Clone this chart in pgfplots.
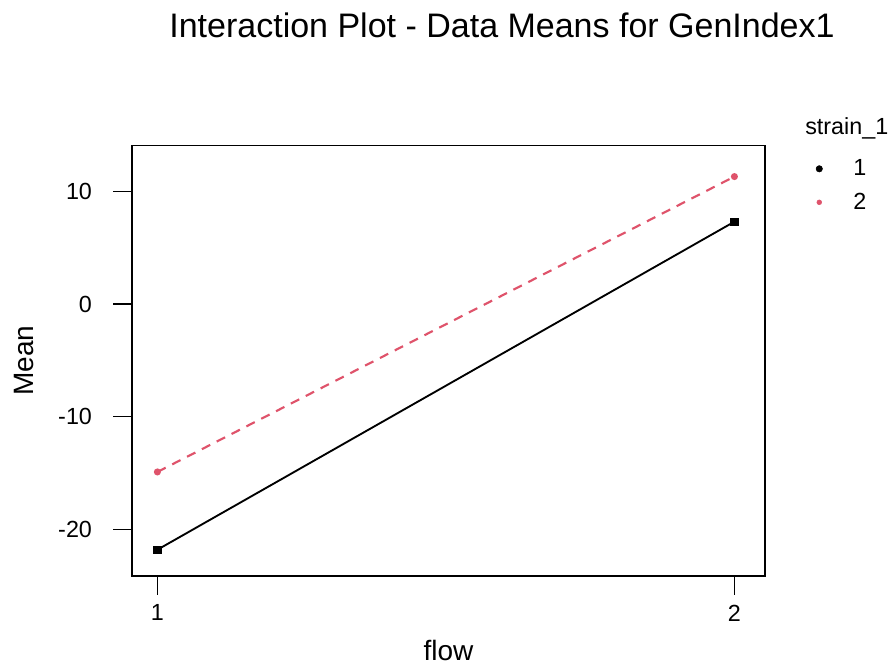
\documentclass[border=0pt]{standalone}
\usepackage{fontspec}
\setmainfont{Liberation Sans}
\usepackage{pgfplots}
\pgfplotsset{compat=1.18}
\definecolor{rred}{HTML}{DF536B}
\begin{document}
\begin{tikzpicture}
\path[use as bounding box, fill=white] (0,0) rectangle (668.25pt,501pt);
\begin{axis}[
  at={(99pt,69pt)}, anchor=south west,
  scale only axis, width=474.75pt, height=322.9pt,
  xmin=0.956, xmax=2.053, ymin=-24.13, ymax=14.06,
  xtick={1,2}, xticklabels={1,2},
  ytick={-20,-10,0,10}, yticklabels={-20,-10,0,10},
  xtick pos=bottom, ytick pos=left, tick align=outside,
  major tick length=14pt,
  axis line style={line width=1pt},
  every tick/.style={black, line width=1pt},
  ticklabel style={font=\fontsize{17.5}{20}\selectfont},
  yticklabel style={xshift=-12.5pt},
  xticklabel style={yshift=-4pt},
  xlabel={flow}, ylabel={Mean},
  label style={font=\fontsize{21}{25}\selectfont},
  xlabel style={at={(axis description cs:0.5,-0.197)}, anchor=base},
  ylabel style={at={(axis description cs:-0.156,0.5)}, anchor=base},
  legend style={at={(axis description cs:1.079,0.972)}, anchor=north west,
    draw=none, fill=none, inner sep=0pt, row sep=8.5pt,
    font=\fontsize{17.5}{20}\selectfont,
    nodes={inner sep=1.5pt}},
  legend cell align=left,
]
\addplot[black, line width=1.4pt, mark=square*, mark size=2.4pt, forget plot]
  coordinates {(1,-21.8) (2,7.3)};
\addplot[rred, line width=1.6pt, dash pattern=on 7pt off 5.5pt, mark=*, mark size=1.8pt, mark options={solid}, forget plot]
  coordinates {(1,-14.9) (2,11.3)};
\addlegendimage{black, only marks, mark=*, mark size=2.4pt,
  legend image code/.code={\path[draw=none,fill=none] (-3pt,-3pt) rectangle (24pt,3pt);
    \fill[black] (0pt,0pt) circle (2.4pt);}}
\addlegendentry{1}
\addlegendimage{rred, only marks, mark=*, mark size=1.8pt,
  legend image code/.code={\path[draw=none,fill=none] (-3pt,-3pt) rectangle (24pt,3pt);
    \fill[rred] (0pt,0pt) circle (1.8pt);}}
\addlegendentry{2}
\end{axis}
\node[anchor=base, font=\fontsize{25.5}{30}\selectfont] at (376.5pt,473pt) {Interaction Plot - Data Means for GenIndex1};
\node[anchor=base west, inner sep=0pt, font=\fontsize{17.5}{20}\selectfont] at (603.75pt,399.75pt) {strain\_1};
\end{tikzpicture}
\end{document}
